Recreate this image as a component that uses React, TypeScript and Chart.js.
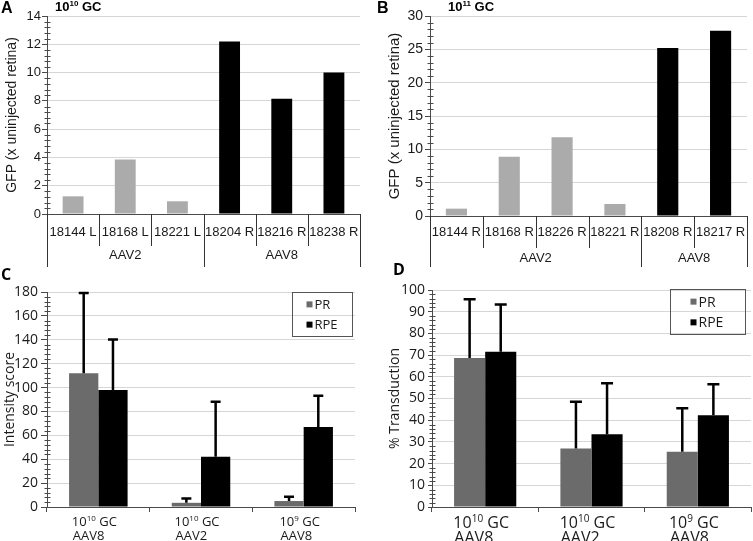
import React, { useEffect, useRef } from "react";
import { Chart, registerables } from "chart.js";

Chart.register(...registerables);

// ---------- Panel A data (10^10 GC) ----------
const samplesA = ["18144 L", "18168 L", "18221 L", "18204 R", "18216 R", "18238 R"];
const gfpA = [1.25, 3.85, 0.9, 12.2, 8.15, 10.0];
const serotypeA = ["AAV2", "AAV2", "AAV2", "AAV8", "AAV8", "AAV8"];

// ---------- Panel B data (10^11 GC) ----------
const samplesB = ["18144 R", "18168 R", "18226 R", "18221 R", "18208 R", "18217 R"];
const gfpB = [1.1, 8.9, 11.8, 1.8, 25.2, 27.8];
const serotypeB = ["AAV2", "AAV2", "AAV2", "AAV2", "AAV8", "AAV8"];

// ---------- Panels C & D data ----------
const doseLabels = ["10^10 GC", "10^10 GC", "10^9 GC"];
const vectorLabels = ["AAV8", "AAV2", "AAV8"];
const seriesNames = ["PR", "RPE"];

const intensityPR = [112, 3.5, 5];
const intensityPRErr = [68, 4.5, 4.5];
const intensityRPE = [98, 42, 67];
const intensityRPEErr = [43, 47, 27];

const transPR = [68.7, 27, 25.5];
const transPRErr = [27.5, 22, 20.5];
const transRPE = [71.5, 33.5, 42.3];
const transRPEErr = [22.3, 24, 14.7];

// ---------- styles ----------
const LIGHT_GRAY = "#ababab";
const MID_GRAY = "#6b6b6b";
const BLACK = "#000000";
const TEXT = "#1a1a1a";
const GRID = "#d6d6d6";
const AXIS = "#4a4a4a";
const ARIAL = "'Liberation Sans', Arial, sans-serif";
const OPEN = "'Open Sans', 'Liberation Sans', sans-serif";

function supParts(text: string): [string, string, string] {
  const m = text.match(/^(.*?)\^(\d+)(.*)$/);
  return m ? [m[1], m[2], m[3]] : [text, "", ""];
}

function drawSup(
  ctx: CanvasRenderingContext2D,
  text: string,
  x: number,
  y: number,
  size: number,
  family: string,
  weight: string,
  align: "left" | "center"
) {
  const [a, s, b] = supParts(text);
  const f1 = `${weight} ${size}px ${family}`;
  const f2 = `${weight} ${Math.round(size * 0.64)}px ${family}`;
  ctx.font = f1;
  const wa = ctx.measureText(a).width;
  const wb = ctx.measureText(b).width;
  ctx.font = f2;
  const ws = ctx.measureText(s).width;
  const total = wa + ws + wb;
  const x0 = align === "center" ? x - total / 2 : x;
  ctx.textAlign = "left";
  ctx.textBaseline = "alphabetic";
  ctx.font = f1;
  ctx.fillText(a, x0, y);
  ctx.font = f2;
  ctx.fillText(s, x0 + wa, y - size * 0.4);
  ctx.font = f1;
  ctx.fillText(b, x0 + wa + ws, y);
  return total;
}

// panel letter + subtitle
function headerPlugin(h: any) {
  return {
    id: "header",
    afterDraw(chart: any) {
      const ctx = chart.ctx as CanvasRenderingContext2D;
      ctx.save();
      ctx.fillStyle = BLACK;
      ctx.textAlign = "left";
      ctx.textBaseline = "alphabetic";
      ctx.font = `bold ${h.letterSize}px ${h.letterFamily}`;
      ctx.fillText(h.letter, h.letterX, h.letterY);
      if (h.subtitle) {
        drawSup(ctx, h.subtitle, h.subX, h.subY, 13, ARIAL, "bold", "left");
      }
      ctx.restore();
    },
  };
}

// minor ticks on y axis
function minorTicksPlugin(max: number, minor: number, major: number) {
  return {
    id: "minorTicks",
    afterDraw(chart: any) {
      const ctx = chart.ctx as CanvasRenderingContext2D;
      const y = chart.scales.y;
      const ax = Math.round(chart.chartArea.left) + 0.5;
      const n = Math.round(max / minor);
      const per = Math.round(major / minor);
      ctx.save();
      ctx.strokeStyle = AXIS;
      ctx.lineWidth = 1;
      ctx.beginPath();
      for (let k = 0; k <= n; k++) {
        if (k % per === 0) continue;
        const py = Math.round(y.getPixelForValue(k * minor)) + 0.5;
        ctx.moveTo(ax - 3, py);
        ctx.lineTo(ax + 3, py);
      }
      ctx.stroke();
      ctx.restore();
    },
  };
}

// table-style category axis for A and B
function tablePlugin(cats: string[], groups: string[], t: any) {
  return {
    id: "tableAxis",
    afterDraw(chart: any) {
      const ctx = chart.ctx as CanvasRenderingContext2D;
      const x = chart.scales.x;
      const bottom = chart.chartArea.bottom;
      const n = cats.length;
      const half = (x.getPixelForValue(1) - x.getPixelForValue(0)) / 2;
      ctx.save();
      ctx.strokeStyle = "#333";
      ctx.lineWidth = 1;
      ctx.beginPath();
      for (let i = 0; i <= n; i++) {
        const bx = i < n ? x.getPixelForValue(i) - half : x.getPixelForValue(n - 1) + half;
        const groupEdge = i === 0 || i === n || groups[i] !== groups[i - 1];
        const px = Math.round(bx) + 0.5;
        ctx.moveTo(px, bottom);
        ctx.lineTo(px, bottom + (groupEdge ? t.longDy : t.shortDy));
      }
      ctx.stroke();
      ctx.fillStyle = TEXT;
      ctx.textAlign = "center";
      ctx.textBaseline = "middle";
      ctx.font = `${t.fontSize}px ${ARIAL}`;
      cats.forEach((c, i) => ctx.fillText(c, x.getPixelForValue(i), bottom + t.labelDy));
      let start = 0;
      for (let i = 1; i <= n; i++) {
        if (i === n || groups[i] !== groups[start]) {
          const cx = (x.getPixelForValue(start) + x.getPixelForValue(i - 1)) / 2;
          ctx.fillText(groups[start], cx, bottom + t.groupDy);
          start = i;
        }
      }
      ctx.restore();
    },
  };
}

// two-line category labels with superscripts for C and D
function doseLabelPlugin(l: any) {
  return {
    id: "doseLabels",
    afterDraw(chart: any) {
      const ctx = chart.ctx as CanvasRenderingContext2D;
      const x = chart.scales.x;
      const bottom = chart.chartArea.bottom;
      ctx.save();
      ctx.fillStyle = TEXT;
      doseLabels.forEach((d, i) => {
        const cx = x.getPixelForValue(i) + l.shift;
        const [a, s, b] = supParts(d);
        ctx.font = `${l.size}px ${OPEN}`;
        const wa = ctx.measureText(a).width + ctx.measureText(b).width;
        ctx.font = `${Math.round(l.size * 0.64)}px ${OPEN}`;
        const w = wa + ctx.measureText(s).width;
        const x0 = cx - w / 2;
        drawSup(ctx, d, x0, bottom + l.line1, l.size, OPEN, "normal", "left");
        ctx.font = `${l.size}px ${OPEN}`;
        ctx.textAlign = "left";
        ctx.textBaseline = "alphabetic";
        ctx.fillText(vectorLabels[i], x0 + 1, bottom + l.line2);
      });
      ctx.restore();
    },
  };
}

const errorBarPlugin = (capW: number) => ({
  id: "errorBars",
  afterDatasetsDraw(chart: any) {
    const ctx = chart.ctx as CanvasRenderingContext2D;
    const y = chart.scales.y;
    chart.data.datasets.forEach((ds: any, di: number) => {
      const errs: number[] | undefined = ds.errors;
      if (!errs) return;
      const meta = chart.getDatasetMeta(di);
      meta.data.forEach((bar: any, i: number) => {
        const top = y.getPixelForValue(ds.data[i] + errs[i]);
        const bx = bar.x;
        ctx.save();
        ctx.strokeStyle = BLACK;
        ctx.lineWidth = 2.5;
        ctx.beginPath();
        ctx.moveTo(bx, bar.y);
        ctx.lineTo(bx, top + 1);
        ctx.moveTo(bx - capW / 2, top + 1);
        ctx.lineTo(bx + capW / 2, top + 1);
        ctx.stroke();
        ctx.restore();
      });
    });
  },
});

function legendPlugin(g: any) {
  return {
    id: "boxLegend",
    afterDraw(chart: any) {
      const ctx = chart.ctx as CanvasRenderingContext2D;
      const ca = chart.chartArea;
      const x0 = Math.round(ca.right - g.rightGap - g.w) + 0.5;
      const y0 = Math.round(ca.top + g.topGap) + 0.5;
      ctx.save();
      ctx.strokeStyle = "#555";
      ctx.lineWidth = 1;
      ctx.strokeRect(x0, y0, g.w, g.h);
      ctx.font = `${g.size}px ${OPEN}`;
      ctx.textAlign = "left";
      ctx.textBaseline = "middle";
      chart.data.datasets.forEach((ds: any, i: number) => {
        const cy = y0 + g.h * (i === 0 ? 0.27 : 0.73);
        ctx.fillStyle = ds.backgroundColor;
        ctx.fillRect(x0 + g.sqX, cy - 3, 6, 6);
        ctx.fillStyle = TEXT;
        ctx.fillText(ds.label, x0 + g.textX, cy + 1);
      });
      ctx.restore();
    },
  };
}

function yScale(o: any) {
  return {
    min: 0,
    max: o.max,
    ticks: { stepSize: o.step, color: TEXT, font: { size: o.tickSize, family: o.family }, padding: o.tickPad },
    grid: { color: GRID, lineWidth: 1, tickLength: o.tickLen, tickColor: AXIS, drawTicks: true },
    border: { display: true, color: AXIS, width: 1 },
    title: {
      display: true,
      text: o.title,
      color: TEXT,
      font: { size: o.titleSize, family: o.family },
      padding: { top: o.titlePad, bottom: 0 },
    },
    afterFit: (s: any) => {
      s.width = o.width;
    },
  };
}

function configAB(p: any) {
  return {
    type: "bar",
    data: {
      labels: p.cats,
      datasets: [
        {
          label: "GFP",
          data: p.values,
          backgroundColor: p.groups.map((g: string) => (g === "AAV8" ? BLACK : LIGHT_GRAY)),
          barPercentage: 0.4,
          categoryPercentage: 1,
        },
      ],
    },
    options: {
      responsive: false,
      animation: false,
      devicePixelRatio: 1,
      layout: { padding: p.padding },
      plugins: { legend: { display: false }, tooltip: { enabled: false } },
      scales: {
        x: {
          type: "category",
          offset: true,
          grid: { display: false, drawTicks: false },
          border: { display: true, color: AXIS },
          ticks: { display: false },
          afterFit: (s: any) => {
            s.height = p.xHeight;
          },
        },
        y: yScale(p.y),
      },
    },
    plugins: [
      minorTicksPlugin(p.y.max, p.minor, p.y.step),
      tablePlugin(p.cats, p.groups, p.table),
      headerPlugin(p.header),
    ],
  };
}

function configCD(p: any) {
  return {
    type: "bar",
    data: {
      labels: doseLabels.map((d, i) => d + " " + vectorLabels[i]),
      datasets: [
        {
          label: seriesNames[0],
          data: p.pr,
          errors: p.prErr,
          backgroundColor: MID_GRAY,
          barPercentage: 1,
          categoryPercentage: p.catPct,
        },
        {
          label: seriesNames[1],
          data: p.rpe,
          errors: p.rpeErr,
          backgroundColor: BLACK,
          barPercentage: 1,
          categoryPercentage: p.catPct,
        },
      ],
    },
    options: {
      responsive: false,
      animation: false,
      devicePixelRatio: 1,
      layout: { padding: p.padding },
      plugins: { legend: { display: false }, tooltip: { enabled: false } },
      scales: {
        x: {
          type: "category",
          offset: true,
          grid: {
            display: true,
            offset: true,
            drawOnChartArea: false,
            drawTicks: true,
            tickLength: 5,
            color: AXIS,
            tickColor: AXIS,
          },
          border: { display: true, color: AXIS },
          ticks: { display: false },
          afterFit: (s: any) => {
            s.height = p.xHeight;
          },
        },
        y: yScale(p.y),
      },
    },
    plugins: [
      minorTicksPlugin(p.y.max, p.minor, p.y.step),
      errorBarPlugin(p.capW),
      legendPlugin(p.legend),
      doseLabelPlugin(p.labels),
      headerPlugin(p.header),
    ],
  };
}

const panels = [
  {
    key: "A",
    left: 0,
    top: 0,
    w: 376,
    h: 270,
    config: () =>
      configAB({
        cats: samplesA,
        values: gfpA,
        groups: serotypeA,
        padding: { top: 16, right: 16, left: 0, bottom: 0 },
        xHeight: 56,
        minor: 0.4,
        y: {
          max: 14, step: 2, tickSize: 13, family: ARIAL, tickPad: 1, tickLen: 5,
          title: "GFP (x uninjected retina)", titleSize: 14, titlePad: 4, width: 47,
        },
        table: { fontSize: 13, labelDy: 18, groupDy: 41, shortDy: 32, longDy: 53 },
        header: { letter: "A", letterX: 1, letterY: 13, letterSize: 16, letterFamily: ARIAL, subtitle: "10^10 GC", subX: 55, subY: 11 },
      }),
  },
  {
    key: "B",
    left: 376,
    top: 0,
    w: 377,
    h: 270,
    config: () =>
      configAB({
        cats: samplesB,
        values: gfpB,
        groups: serotypeB,
        padding: { top: 16, right: 6, left: 0, bottom: 0 },
        xHeight: 54,
        minor: 1,
        y: {
          max: 30, step: 5, tickSize: 14, family: ARIAL, tickPad: 2, tickLen: 5,
          title: "GFP (x uninjected retina)", titleSize: 15, titlePad: 10, width: 54,
        },
        table: { fontSize: 13, labelDy: 16, groupDy: 42, shortDy: 32, longDy: 51 },
        header: { letter: "B", letterX: 1, letterY: 13, letterSize: 16, letterFamily: ARIAL, subtitle: "10^11 GC", subX: 72, subY: 11 },
      }),
  },
  {
    key: "C",
    left: 0,
    top: 258,
    w: 376,
    h: 283,
    config: () =>
      configCD({
        pr: intensityPR,
        prErr: intensityPRErr,
        rpe: intensityRPE,
        rpeErr: intensityRPEErr,
        catPct: 0.57,
        padding: { top: 34, right: 21, left: 0, bottom: 0 },
        xHeight: 34,
        minor: 4,
        capW: 10,
        y: {
          max: 180, step: 20, tickSize: 14, family: OPEN, tickPad: 3, tickLen: 6,
          title: "Intensity score", titleSize: 14, titlePad: 2, width: 47,
        },
        legend: { w: 60, h: 44, rightGap: 3, topGap: 0, sqX: 14, textX: 22, size: 13 },
        labels: { size: 13, line1: 19, line2: 33, shift: -4 },
        header: { letter: "C", letterX: 1, letterY: 22, letterSize: 16, letterFamily: OPEN },
      }),
  },
  {
    key: "D",
    left: 376,
    top: 258,
    w: 377,
    h: 283,
    config: () =>
      configCD({
        pr: transPR,
        prErr: transPRErr,
        rpe: transRPE,
        rpeErr: transRPEErr,
        catPct: 0.585,
        padding: { top: 32, right: 2, left: 0, bottom: 0 },
        xHeight: 34,
        minor: 2,
        capW: 12,
        y: {
          max: 100, step: 10, tickSize: 14, family: OPEN, tickPad: 3, tickLen: 4,
          title: "% Transduction", titleSize: 14, titlePad: 11, width: 56,
        },
        legend: { w: 75, h: 45, rightGap: 6, topGap: -1, sqX: 20, textX: 28, size: 14 },
        labels: { size: 16, line1: 21, line2: 36, shift: -4 },
        header: { letter: "D", letterX: 17, letterY: 17, letterSize: 16, letterFamily: OPEN },
      }),
  },
];

function Panel({ spec }: { spec: any }) {
  const ref = useRef<HTMLCanvasElement>(null);
  useEffect(() => {
    const chart = new Chart(ref.current as HTMLCanvasElement, spec.config() as any);
    return () => chart.destroy();
  }, []);
  return (
    <canvas
      ref={ref}
      width={spec.w}
      height={spec.h}
      style={{ position: "absolute", left: spec.left, top: spec.top, width: spec.w, height: spec.h }}
    />
  );
}

export default function App() {
  return (
    <div
      style={{
        position: "fixed",
        left: 0,
        top: 0,
        width: 753,
        height: 541,
        background: "#ffffff",
        overflow: "hidden",
      }}
    >
      {panels.map((p) => (
        <Panel key={p.key} spec={p} />
      ))}
    </div>
  );
}
